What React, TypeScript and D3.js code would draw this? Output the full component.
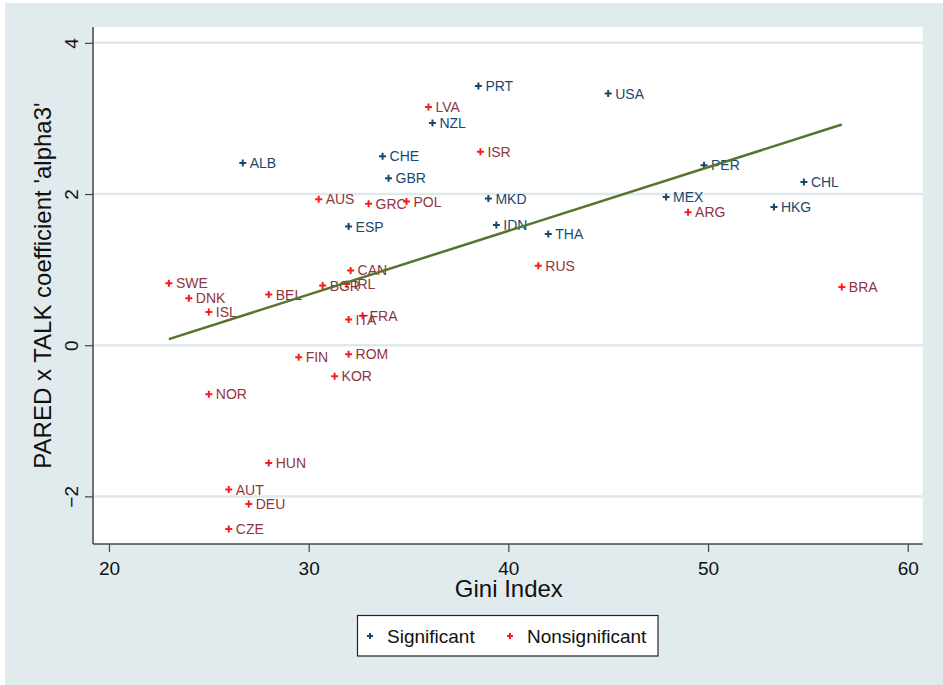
import React, { useRef, useEffect } from 'react';
import * as d3 from 'd3';

// significant countries
const sigCountries = ['PRT', 'USA', 'NZL', 'CHE', 'ALB', 'GBR', 'PER', 'CHL', 'MKD', 'MEX', 'HKG', 'ESP', 'IDN', 'THA'];
const sigGini = [38.5, 45.0, 36.2, 33.7, 26.7, 34.0, 49.8, 54.8, 39.0, 47.9, 53.3, 32.0, 39.4, 42.0];
const sigAlpha = [3.43, 3.33, 2.94, 2.5, 2.41, 2.21, 2.38, 2.16, 1.94, 1.96, 1.83, 1.57, 1.59, 1.47];

// nonsignificant countries
const nonCountries = ['LVA', 'ISR', 'AUS', 'GRC', 'POL', 'ARG', 'RUS', 'CAN', 'SWE', 'BGR', 'IRL', 'DNK', 'BEL', 'ISL', 'ITA', 'FRA', 'FIN', 'ROM', 'KOR', 'NOR', 'HUN', 'AUT', 'DEU', 'CZE', 'BRA'];
const nonGini = [36.0, 38.6, 30.5, 33.0, 34.9, 49.0, 41.5, 32.1, 23.0, 30.7, 31.9, 24.0, 28.0, 25.0, 32.0, 32.7, 29.5, 32.0, 31.3, 25.0, 28.0, 26.0, 27.0, 26.0, 56.7];
const nonAlpha = [3.15, 2.56, 1.93, 1.87, 1.9, 1.76, 1.05, 0.99, 0.82, 0.79, 0.81, 0.62, 0.67, 0.44, 0.34, 0.39, -0.16, -0.12, -0.41, -0.65, -1.56, -1.91, -2.1, -2.43, 0.77];

// linear fit end points
const fitGini = [23.0, 56.7];
const fitAlpha = [0.08, 2.92];

const xTicks = [20, 30, 40, 50, 60];
const yTicks = [-2, 0, 2, 4];

const W = 943;
const H = 685;
const NAVY = '#1a476f';
const RED = '#ff1a1a';
const MAROON = '#90353b';
const GREEN = '#55752f';
const BG = '#e1ebee';

function App() {
  const svgRef = useRef<SVGSVGElement>(null);

  useEffect(() => {
    const svg = d3.select(svgRef.current);
    svg.selectAll('*').remove();

    const left = 93, right = 922.7, top = 27, bottom = 544;

    const x = d3.scaleLinear().domain([19.2, 60.75]).range([left, right]);
    const y = d3.scaleLinear().domain([-2.63, 4.21]).range([bottom, top]);

    // backgrounds
    svg.append('rect').attr('width', W).attr('height', H).attr('fill', '#fff');
    svg.append('rect').attr('x', 5).attr('y', 3).attr('width', W - 5).attr('height', H - 3).attr('fill', BG);
    svg.append('rect').attr('x', left).attr('y', top).attr('width', right - left).attr('height', bottom - top).attr('fill', '#fff');

    // gridlines
    svg.append('g')
      .selectAll('line')
      .data(yTicks)
      .join('line')
      .attr('x1', left).attr('x2', right)
      .attr('y1', d => y(d)).attr('y2', d => y(d))
      .attr('stroke', '#dfe9ec')
      .attr('stroke-width', 2.5);

    // axes
    const xAxis = d3.axisBottom(x).tickValues(xTicks).tickSize(8).tickPadding(4).tickFormat(d3.format('d'));
    const gx = svg.append('g').attr('transform', `translate(0,${bottom})`).call(xAxis);
    gx.select('.domain').attr('stroke', '#444').attr('stroke-width', 1.5).attr('d', `M${left},0H${right}`);
    gx.selectAll('.tick line').attr('stroke', '#444').attr('stroke-width', 1.2);
    gx.selectAll('.tick text')
      .attr('y', 31).attr('dy', null)
      .attr('fill', '#111')
      .style('font-family', '"Liberation Sans", Arial, sans-serif')
      .style('font-size', '19px');

    const yAxis = d3.axisLeft(y).tickValues(yTicks).tickSize(8).tickFormat(d3.format('d'));
    const gy = svg.append('g').attr('transform', `translate(${left},0)`).call(yAxis);
    gy.select('.domain').attr('stroke', '#444').attr('stroke-width', 1.5).attr('d', `M0,${top}V${bottom}`);
    gy.selectAll('.tick line').attr('stroke', '#444').attr('stroke-width', 1.2);
    gy.selectAll('.tick text')
      .attr('x', null).attr('dy', null)
      .attr('transform', 'translate(-15,0) rotate(-90)')
      .attr('text-anchor', 'middle')
      .attr('fill', '#111')
      .style('font-family', '"Liberation Sans", Arial, sans-serif')
      .style('font-size', '19px');
    gx.attr('font-family', null);
    gy.attr('font-family', null);

    // axis titles
    svg.append('text')
      .attr('x', (left + right) / 2 + 1).attr('y', 597)
      .attr('text-anchor', 'middle')
      .style('font-family', '"Liberation Sans", Arial, sans-serif')
      .style('font-size', '24px')
      .attr('fill', '#111')
      .text('Gini Index');

    svg.append('text')
      .attr('transform', `translate(51,${(top + bottom) / 2}) rotate(-90)`)
      .attr('text-anchor', 'middle')
      .style('font-family', '"Liberation Sans", Arial, sans-serif')
      .style('font-size', '24px')
      .attr('fill', '#111')
      .text("PARED x TALK coefficient 'alpha3'");

    const plus = 'M-3.5,0H3.5M0,-3.5V3.5';

    const drawGroup = (codes: string[], gini: number[], alpha: number[], mcol: string, lcol: string) => {
      const pts = codes.map((c, i) => ({ c, gx: gini[i], a: alpha[i] }));
      const g = svg.append('g');
      g.selectAll('path')
        .data(pts)
        .join('path')
        .attr('d', plus)
        .attr('transform', d => `translate(${x(d.gx)},${y(d.a)})`)
        .attr('stroke', mcol)
        .attr('stroke-width', 2)
        .attr('fill', 'none');
      g.selectAll('text')
        .data(pts)
        .join('text')
        .attr('x', d => x(d.gx) + 7)
        .attr('y', d => y(d.a) + 5)
        .style('font-family', '"Liberation Sans", Arial, sans-serif')
        .style('font-size', '14px')
        .attr('fill', lcol)
        .text(d => d.c);
    };

    drawGroup(sigCountries, sigGini, sigAlpha, NAVY, NAVY);
    drawGroup(nonCountries, nonGini, nonAlpha, RED, MAROON);

    // fit line
    const line = d3.line<number>()
      .x((d, i) => x(fitGini[i]))
      .y(d => y(d));
    svg.append('path')
      .datum(fitAlpha)
      .attr('d', line)
      .attr('fill', 'none')
      .attr('stroke', GREEN)
      .attr('stroke-width', 2.5);

    // legend
    const lg = svg.append('g');
    lg.append('rect')
      .attr('x', 357.5).attr('y', 615.5).attr('width', 300.5).attr('height', 40.5)
      .attr('fill', '#fff').attr('stroke', '#222').attr('stroke-width', 1.2);
    const items = [
      { label: 'Significant', col: NAVY, mx: 370 },
      { label: 'Nonsignificant', col: RED, mx: 510 },
    ];
    items.forEach(it => {
      lg.append('path').attr('d', 'M-3,0H3M0,-3V3')
        .attr('transform', `translate(${it.mx},636)`)
        .attr('stroke', it.col).attr('stroke-width', 2);
      lg.append('text')
        .attr('x', it.mx + 17).attr('y', 642.5)
        .style('font-family', '"Liberation Sans", Arial, sans-serif')
        .style('font-size', '19px')
        .attr('fill', '#111')
        .text(it.label);
    });
  }, []);

  return (
    <svg ref={svgRef} width={W} height={H} style={{ position: 'absolute', left: 0, top: 0 }} />
  );
}

export default App;
